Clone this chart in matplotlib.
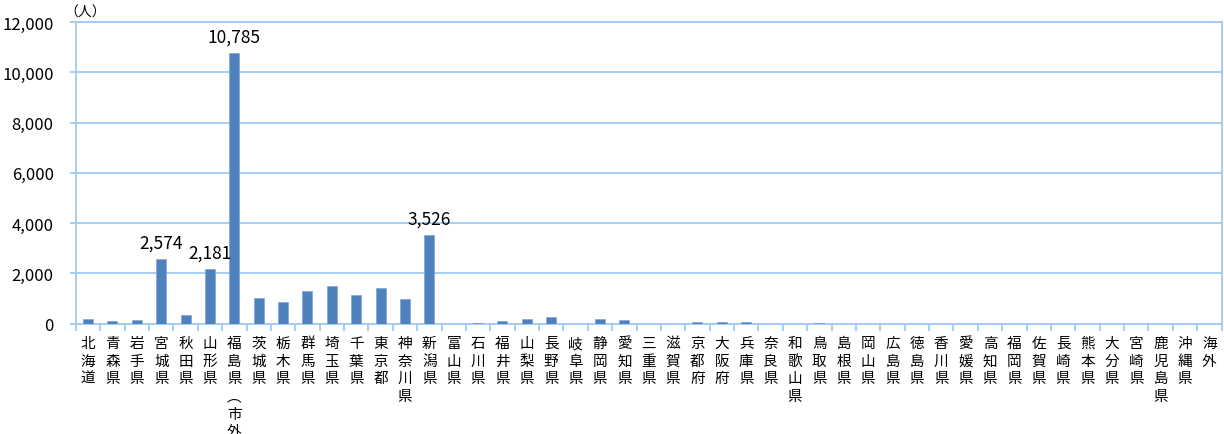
import numpy as np
import matplotlib.pyplot as plt

plt.rcParams['font.family'] = ['Noto Sans CJK JP', 'DejaVu Sans']

# 避難先別の人数
prefs = ['北海道', '青森県', '岩手県', '宮城県', '秋田県', '山形県', '福島県︵市外︶',
         '茨城県', '栃木県', '群馬県', '埼玉県', '千葉県', '東京都', '神奈川県',
         '新潟県', '富山県', '石川県', '福井県', '山梨県', '長野県', '岐阜県',
         '静岡県', '愛知県', '三重県', '滋賀県', '京都府', '大阪府', '兵庫県',
         '奈良県', '和歌山県', '鳥取県', '島根県', '岡山県', '広島県', '徳島県',
         '香川県', '愛媛県', '高知県', '福岡県', '佐賀県', '長崎県', '熊本県',
         '大分県', '宮崎県', '鹿児島県', '沖縄県', '海外']
values = [170, 95, 150, 2574, 320, 2181, 10785,
          1020, 855, 1310, 1500, 1140, 1405, 980,
          3526, 0, 40, 115, 185, 265, 0,
          160, 130, 0, 0, 65, 55, 55,
          0, 0, 15, 0, 0, 0, 0,
          0, 0, 0, 0, 0, 0, 0,
          0, 0, 0, 0, 0]
labeled = ['宮城県', '山形県', '福島県︵市外︶', '新潟県']

line_c = '#9fcbf5'
bar_c = '#4f81bd'

fig = plt.figure(figsize=(12.24, 4.35), dpi=100)
ax = fig.add_axes([0.062, 0.254, 0.936, 0.693])

x = np.arange(len(prefs))
ax.bar(x, values, width=0.41, color=bar_c, edgecolor='#7fa6d6', linewidth=0.5, zorder=3)

for xi, name, v in zip(x, prefs, values):
    if name in labeled:
        ax.annotate(f'{v:,}', (xi, v), xytext=(0, 5), textcoords='offset points',
                    ha='center', va='bottom', fontsize=12.5)

ax.set_xlim(-0.5, len(prefs) - 0.5)
ax.set_ylim(0, 12000)
ax.set_yticks(np.arange(0, 12001, 2000))
ax.set_yticklabels([f'{t:,}' for t in range(0, 12001, 2000)], fontsize=12)
ax.grid(axis='y', color=line_c, linewidth=1.3, zorder=0)

ax.set_xticks(x)
ax.set_xticklabels(['\n'.join(p) for p in prefs], fontsize=10.5,
                   va='top', linespacing=1.33)
ax.set_xticks(np.arange(-0.5, len(prefs)), minor=True)
ax.tick_params(axis='x', which='major', length=0, pad=9)
ax.tick_params(axis='x', which='minor', length=5, color=line_c, width=1.3)
ax.tick_params(axis='y', length=4, color=line_c, width=1.3, pad=12)

for s in ax.spines.values():
    s.set_color(line_c)
    s.set_linewidth(1.3)

ax.text(0.008, 1.012, '（人）', transform=ax.transAxes, ha='center', va='bottom', fontsize=10)

plt.savefig('out.png', dpi=100)
plt.close()
